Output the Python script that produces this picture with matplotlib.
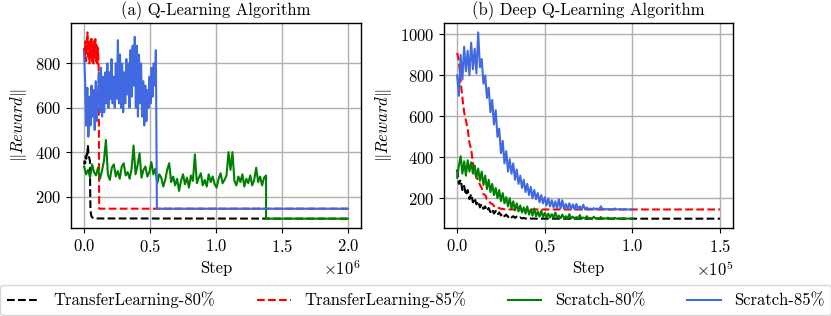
import numpy as np
import matplotlib
matplotlib.use("Agg")
import matplotlib.pyplot as plt

plt.rcParams.update({
    "font.family": "serif",
    "font.serif": ["cmr10"],
    "mathtext.fontset": "cm",
    "axes.formatter.use_mathtext": True,
    "font.size": 12,
    "axes.unicode_minus": False,
})

labels = ["TransferLearning-80%", "TransferLearning-85%", "Scratch-80%", "Scratch-85%"]
colors = ["black", "red", "green", "royalblue"]
styles = ["--", "--", "-", "-"]

# ---------------------------------------------------------------- Q-Learning
ql_end = 2.0e6

ql_tl80_step = 4000
ql_tl80 = [345, 360, 350, 380, 370, 400, 390, 432, 400, 380, 370, 360]
ql_tl80_tail_x = [46000, 48000, 52000, 56000, 64000, 80000, ql_end]
ql_tl80_tail_y = [200, 140, 120, 110, 104, 101, 100]

ql_tl85_step = 5000
ql_tl85 = [870, 820, 900, 810, 880, 940, 830, 910, 800, 890, 830, 920,
           810, 880, 800, 900, 830, 910, 810, 880, 800, 870, 790]
ql_tl85_tail_x = [114000, ql_end]
ql_tl85_tail_y = [145, 145]

ql_s80_step = 15000
ql_s80 = [335, 300, 320, 285, 345, 310, 295, 330, 280, 315, 360, 455,
          300, 275, 330, 345, 290, 315, 280, 335, 350, 295, 310, 280,
          325, 430, 300, 340, 395, 285, 320, 335, 290, 310, 355, 300,
          325, 260, 300, 285, 245, 275, 320, 350, 265, 290, 250, 280,
          225, 270, 300, 255, 285, 240, 295, 270, 390, 260, 285, 305,
          250, 275, 245, 300, 265, 290, 255, 240, 280, 305, 260, 275,
          295, 400, 320, 400, 270, 250, 290, 265, 300, 245, 280, 260,
          295, 250, 275, 330, 265, 290, 250, 285, 295]
ql_s80_tail_x = [1380000, ql_end]
ql_s80_tail_y = [100, 100]

ql_s85_step = 8000
ql_s85 = [850, 700, 520, 690, 470, 650, 520, 700, 560, 680, 500, 720,
          540, 640, 760, 580, 780, 560, 740, 580, 760, 620, 800, 600,
          760, 640, 820, 620, 740, 600, 800, 640, 905, 620, 840, 600,
          800, 580, 760, 620, 820, 660, 800, 600, 860, 650, 880, 700,
          920, 600, 880, 560, 840, 620, 800, 560, 720, 520, 700, 540,
          680, 600, 740, 620, 780, 650, 800, 700, 860]
ql_s85_tail_x = [552000, ql_end]
ql_s85_tail_y = [145, 145]

# ---------------------------------------------------------- Deep Q-Learning
dql_step = 1000
dql_end = 1.5e5

dql_tl80 = [340, 270, 290, 240, 260, 215, 240, 195, 220, 180, 200, 170,
            185, 155, 172, 148, 160, 138, 152, 132, 146, 125, 138, 120,
            130, 116, 126, 112, 120, 108, 116, 106, 112, 104, 110, 102,
            106, 101, 104, 100, 103, 100, 101, 100, 101, 100]
dql_tl85 = [910, 870, 770, 690, 620, 580, 540, 470, 440, 370, 330, 300,
            290, 265, 250, 220, 215, 195, 190, 175, 172, 162, 160, 153,
            152, 148, 148, 146, 146, 145]
dql_s80 = [300, 360, 405, 320, 380, 310, 385, 330, 375, 320, 360, 300,
           345, 285, 330, 265, 310, 245, 290, 230, 270, 215, 250, 200,
           240, 185, 225, 175, 205, 160, 200, 150, 185, 140, 175, 135,
           165, 130, 155, 125, 160, 120, 145, 115, 150, 112, 135, 110,
           140, 108, 128, 106, 125, 105, 122, 104, 130, 103, 115, 102,
           120, 102, 112, 101, 122, 101, 110, 100, 108, 100, 118, 100,
           106, 100, 112, 100, 104, 100, 110, 100, 103, 100, 108, 100,
           102, 100, 105, 100, 101, 100, 104, 100, 101, 100, 100, 103,
           100, 100, 101, 100, 100]
dql_s85 = [800, 700, 900, 780, 940, 820, 920, 800, 960, 830, 930, 810,
           1010, 840, 880, 760, 800, 690, 740, 620, 680, 560, 630, 500,
           540, 420, 480, 370, 430, 330, 390, 320, 370, 290, 340, 270,
           310, 250, 290, 230, 270, 215, 255, 200, 240, 195, 225, 180,
           215, 175, 205, 165, 200, 160, 190, 155, 185, 150, 195, 150,
           190, 148, 172, 147, 175, 146, 170, 146, 172, 146, 160, 145,
           168, 145, 155, 145, 150, 145, 152, 145, 150, 145, 160, 145,
           148, 145, 147, 145, 146, 145, 150, 145, 146, 145, 145, 145,
           147, 145, 145, 145, 145]


def serie(valores, passo, cauda_x=(), cauda_y=()):
    x = np.arange(len(valores)) * passo
    return np.concatenate([x, cauda_x]), np.concatenate([valores, cauda_y])


fig = plt.figure(figsize=(8.31, 3.16), dpi=100)
eixo_1 = fig.add_axes([0.0854, 0.2785, 0.349, 0.6485])
eixo_2 = fig.add_axes([0.5343, 0.2785, 0.348, 0.6485])

# _________________________________________________________ PRIMEIRO EIXO
curvas_1 = [
    serie(ql_tl80, ql_tl80_step, ql_tl80_tail_x, ql_tl80_tail_y),
    serie(ql_tl85, ql_tl85_step, ql_tl85_tail_x, ql_tl85_tail_y),
    serie(ql_s80, ql_s80_step, ql_s80_tail_x, ql_s80_tail_y),
    serie(ql_s85, ql_s85_step, ql_s85_tail_x, ql_s85_tail_y),
]
for (x, y), cor, ls, nome in zip(curvas_1, colors, styles, labels):
    eixo_1.plot(x, y, color=cor, ls=ls, lw=1.5, label=nome)
eixo_1.set_title("(a) Q-Learning Algorithm", fontsize=12)

# _________________________________________________________ SEGUNDO EIXO
curvas_2 = [
    serie(dql_tl80, dql_step, [dql_end], [100]),
    serie(dql_tl85, dql_step, [dql_end], [145]),
    serie(dql_s80, dql_step),
    serie(dql_s85, dql_step),
]
for (x, y), cor, ls in zip(curvas_2, colors, styles):
    eixo_2.plot(x, y, color=cor, ls=ls, lw=1.5)
eixo_2.set_title("(b) Deep Q-Learning Algorithm", fontsize=12)

for eixo in (eixo_1, eixo_2):
    eixo.grid(True, color="#b0b0b0", lw=1.0)
    eixo.set_xlabel("Step")
    eixo.set_ylabel(r"$\|Reward\|$")
    eixo.ticklabel_format(axis="x", style="sci", scilimits=(0, 0))
    eixo.tick_params(labelsize=12)
    for sp in eixo.spines.values():
        sp.set_linewidth(1.0)

fig.legend(loc="lower left", bbox_to_anchor=(0.0, 0.003, 1.0, 0.104),
           mode="expand", ncol=4, borderaxespad=0.0, fontsize=12,
           fancybox=True, edgecolor="#cccccc")

plt.savefig("out.png", dpi=100)
